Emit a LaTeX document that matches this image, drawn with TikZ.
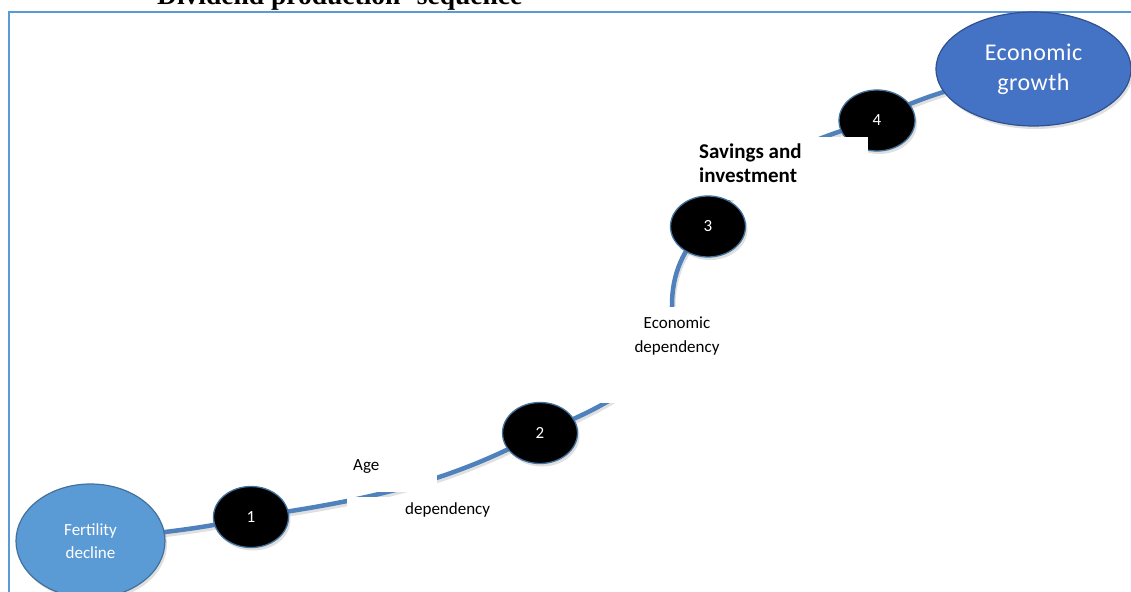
\documentclass[tikz,border=0pt]{standalone}
\usepackage{fontspec}
\setmainfont{Carlito}
\newfontfamily\titlefont{Liberation Serif}
\usetikzlibrary{shapes.geometric,shadows}
\pgfdeclarelayer{bg}
\pgfdeclarelayer{mid}
\pgfdeclarelayer{fg}
\pgfsetlayers{bg,mid,main,fg}
\definecolor{frameblue}{HTML}{5B9BD5}
\definecolor{curveblue}{HTML}{4F81BD}
\definecolor{nodeedge}{HTML}{41719C}
\definecolor{fertfill}{HTML}{5B9BD5}
\definecolor{growfill}{HTML}{4472C4}
\definecolor{growedge}{HTML}{2F528F}
\begin{document}
\begin{tikzpicture}[x=1pt,y=-1pt,
  frameline/.style={draw=frameblue,line width=2pt},
  flow/.style={draw=curveblue,line width=4.5pt,
    preaction={draw=black,opacity=0.12,line width=5pt,
      transform canvas={xshift=1pt,yshift=-2.5pt}}},
  stepnode/.style={ellipse,fill=black,draw=nodeedge,line width=1.3pt,
    minimum width=75pt,minimum height=61pt,inner sep=0pt,text=white,
    font=\fontsize{17}{20}\selectfont,
    drop shadow={opacity=0.25,shadow xshift=2pt,shadow yshift=-3pt}},
  bigoval/.style={ellipse,line width=1.2pt,inner sep=0pt,text=white,align=center,
    drop shadow={opacity=0.25,shadow xshift=2pt,shadow yshift=-3pt}},
  plaintext/.style={inner sep=0pt,font=\fontsize{17}{24}\selectfont},
  mask/.style={fill=white}
]
\useasboundingbox (0,0) rectangle (1131,591);

% frame and title
\begin{pgfonlayer}{bg}
\draw[frameline] (8.5,12) rectangle (1145,610);
\end{pgfonlayer}
\node[anchor=base west,inner sep=0pt,font=\titlefont\bfseries\fontsize{27.5}{30}\selectfont]
  (title) at (157,4.5) {Dividend production\hspace{0.35em} sequence};

% main ovals
\node[bigoval,fill=fertfill,draw=nodeedge,minimum width=149pt,minimum height=114pt,
  font=\fontsize{17}{23}\selectfont] (fert) at (90.5,541) {Fertility\\decline};
\node[bigoval,fill=growfill,draw=growedge,minimum width=195pt,minimum height=114pt,
  font=\addfontfeature{LetterSpace=2}\fontsize{24}{30}\selectfont] (grow) at (1033.5,69) {Economic\\growth};

% step nodes
\node[stepnode] (n1) at (251,517) {1};
\node[stepnode] (n2) at (540,433) {2};
\node[stepnode,minimum width=76pt] (n4) at (877,120.5) {4};

% labels
\node[plaintext,anchor=base west] (age) at (353,470) {Age};
\node[plaintext,anchor=base west] (agedep) at (405,514) {dependency};
\node[plaintext,align=center] (ecodep) at (677,336.3) {Economic\\dependency};

\begin{pgfonlayer}{fg}
\fill[white] (690,137) rectangle (868,200);
\node[inner sep=0pt,align=left,anchor=west,font=\bfseries\fontsize{21}{24}\selectfont]
  (save) at (699,163) {Savings and\\investment};
\node[stepnode] (n3) at (708,226.5) {3};
\end{pgfonlayer}

% connector
\begin{pgfonlayer}{bg}
\draw[flow] (fert.center) .. controls (150,533) and (200,530) .. (n1.center)
  .. controls (370,500) and (450,482) .. (n2.center)
  .. controls (650,390) and (672,355) .. (672,305)
  .. controls (672,268) and (688,242) .. (n3.center)
  .. controls (740,175) and (790,143) .. (n4.center)
  .. controls (910,100) and (960,85) .. (grow.center);
\end{pgfonlayer}

% white masks over the connector
\begin{pgfonlayer}{mid}
\fill[mask] (345,448) rectangle (437,492);
\fill[mask] (347,497) rectangle (500,530);
\fill[mask] (598,307) rectangle (760,403);
\end{pgfonlayer}
\end{tikzpicture}
\end{document}
